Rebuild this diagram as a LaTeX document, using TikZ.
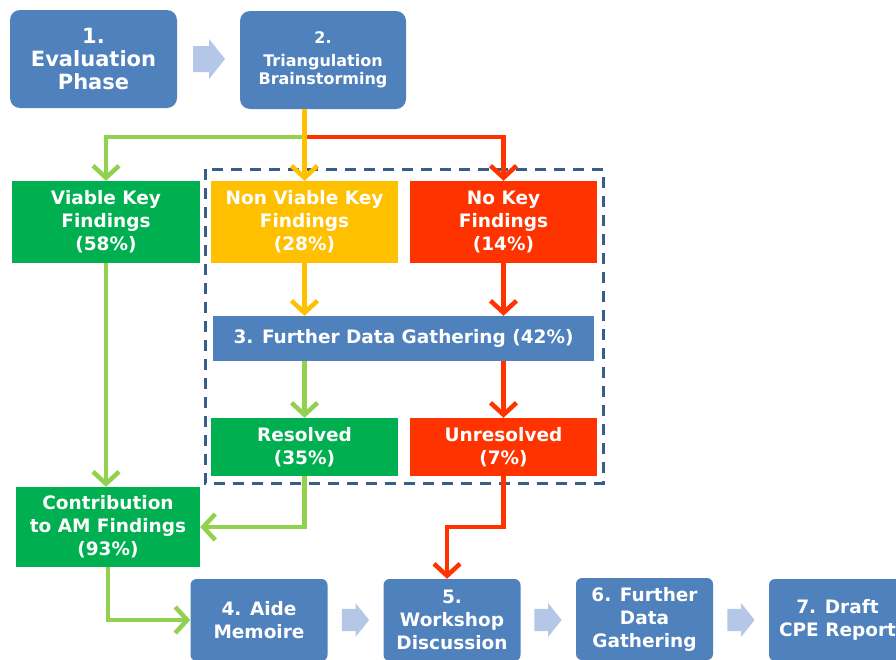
\documentclass[tikz,border=0pt]{standalone}
\usepackage{fontspec}
\setmainfont{DejaVu Sans}
\usetikzlibrary{arrows.meta}

\definecolor{boxblue}{HTML}{4F81BD}
\definecolor{darkgreen}{HTML}{00B050}
\definecolor{amber}{HTML}{FFC000}
\definecolor{signalred}{HTML}{FF3300}
\definecolor{lightgreen}{HTML}{92D050}
\definecolor{chevblue}{HTML}{B4C7E7}
\definecolor{dashblue}{HTML}{385D8A}

\newcommand{\chevron}[2]{\fill[chevblue,shift={(#1)},scale=#2] (-16,-13) -- (0,-13) -- (0,-20) -- (16,0) -- (0,20) -- (0,13) -- (-16,13) -- cycle;}

\begin{document}
\begin{tikzpicture}[x=1pt,y=-1pt,
	box/.style={rectangle,text=white,align=center,font=\bfseries\fontsize{18.5}{23}\selectfont,inner sep=2pt},
	stagebox/.style={box,fill=boxblue,rounded corners=10pt},
	stepbox/.style={box,fill=boxblue,rounded corners=6pt,minimum width=137,minimum height=82},
	flow/.style={line width=4.5pt,-{Straight Barb[length=12pt,width=26pt]}}]
	\useasboundingbox (0,0) rectangle (896,659);

	% top level stages
	\node[stagebox,minimum width=167,minimum height=98,font=\bfseries\fontsize{21}{23}\selectfont] (eval) at (93.5,59) {1.\\Evaluation\\Phase};
	\node[stagebox,minimum width=166,minimum height=98,font=\bfseries\fontsize{16}{18}\selectfont] (tri) at (323,60) {2.\\[5pt]Triangulation\\Brainstorming};
	\chevron{209,59}{1}

	% findings
	\node[box,fill=darkgreen,minimum width=188,minimum height=82] (viable) at (106,222) {Viable Key\\Findings\\(58\%)};
	\node[box,fill=amber,minimum width=187,minimum height=82] (nonviable) at (304.5,222) {Non Viable Key\\Findings\\(28\%)};
	\node[box,fill=signalred,minimum width=187,minimum height=82] (nokey) at (503.5,222) {No Key\\Findings\\(14\%)};

	% further data gathering
	\node[box,fill=boxblue,minimum width=381,minimum height=45] (gather) at (403.5,338.5) {3. Further Data Gathering (42\%)};
	\node[box,fill=darkgreen,minimum width=187,minimum height=58] (resolved) at (304.5,447) {Resolved\\(35\%)};
	\node[box,fill=signalred,minimum width=187,minimum height=58] (unresolved) at (503.5,447) {Unresolved\\(7\%)};
	\draw[dashblue,line width=3pt,dash pattern=on 11pt off 8pt] (205,169) rectangle (603,483);

	\node[box,fill=darkgreen,minimum width=184,minimum height=80] (contrib) at (108,527) {Contribution\\to AM Findings\\(93\%)};

	% bottom stages
	\node[stepbox] (aide) at (259,620) {4. Aide\\Memoire};
	\node[stepbox] (workshop) at (452,620) {5.\\Workshop\\Discussion};
	\node[stepbox] (further) at (644.5,619) {6. Further\\Data\\Gathering};
	\node[stepbox] (draft) at (837.5,620) {7. Draft\\CPE Report};
	\chevron{355.5,620}{0.85}
	\chevron{548,620}{0.85}
	\chevron{741,620}{0.85}

	% split after brainstorming
	\coordinate (fork) at (304.5,137);
	\draw[flow,lightgreen] (fork) -| (viable.north);
	\draw[flow,signalred] (fork) -| (nokey.north);
	\draw[flow,amber] (nonviable.north |- tri.south) -- (nonviable.north);

	% into further data gathering
	\draw[flow,amber] (nonviable.south) -- (nonviable.south |- gather.north);
	\draw[flow,signalred] (nokey.south) -- (nokey.south |- gather.north);
	\draw[flow,lightgreen] (resolved.north |- gather.south) -- (resolved.north);
	\draw[flow,signalred] (unresolved.north |- gather.south) -- (unresolved.north);

	% towards the aide memoire and workshop
	\draw[flow,lightgreen] (viable.south) -- (viable.south |- contrib.north);
	\draw[flow,lightgreen] (resolved.south) |- (contrib.east);
	\draw[flow,signalred] (unresolved.south) -- (unresolved.south |- contrib.east) -| ([xshift=-5pt]workshop.north);
	\draw[flow,lightgreen] (contrib.south) |- (aide.west);
\end{tikzpicture}
\end{document}
